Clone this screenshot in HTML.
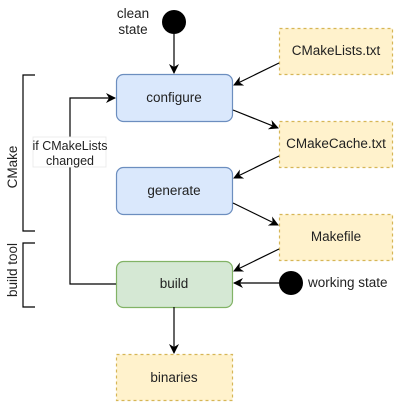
<!DOCTYPE html>
<html><head><style>body{margin:0;background:#fff}</style></head><body>
<svg width="400" height="403" xmlns="http://www.w3.org/2000/svg" font-family="Liberation Sans, sans-serif" font-size="13.5" fill="#000">
<defs><marker id="a" markerWidth="10" markerHeight="10" refX="9" refY="5" orient="auto" markerUnits="userSpaceOnUse"><path d="M0,0 L10,5 L0,10 L3,5 z" fill="#000"/></marker></defs>
<g stroke-width="1.2">
<rect x="116.5" y="74.5" width="116" height="47" rx="7" fill="#dae8fc" stroke="#6c8ebf"/>
<rect x="116.5" y="167.5" width="116" height="47" rx="7" fill="#dae8fc" stroke="#6c8ebf"/>
<rect x="116.5" y="261.5" width="116" height="46" rx="7" fill="#d5e8d4" stroke="#82b366"/>
<g fill="#fff2cc" stroke="#d6b656" stroke-dasharray="3 3">
<rect x="279.5" y="28.5" width="113" height="46"/>
<rect x="279.5" y="121.5" width="113" height="46"/>
<rect x="279.5" y="214.5" width="113" height="46"/>
<rect x="116.5" y="354.5" width="116" height="46"/>
</g>
</g>
<circle cx="174" cy="22" r="12"/>
<circle cx="291" cy="283" r="12"/>
<g stroke="#000" stroke-width="1.2" fill="none">
<line x1="174" y1="34" x2="174" y2="73" marker-end="url(#a)"/>
<line x1="279" y1="63" x2="234" y2="85" marker-end="url(#a)"/>
<line x1="233" y1="110" x2="278" y2="128" marker-end="url(#a)"/>
<line x1="279" y1="156" x2="234" y2="178" marker-end="url(#a)"/>
<line x1="233" y1="203" x2="278" y2="225" marker-end="url(#a)"/>
<line x1="279" y1="249" x2="234" y2="271" marker-end="url(#a)"/>
<line x1="279" y1="283" x2="234" y2="283" marker-end="url(#a)"/>
<line x1="174" y1="307" x2="174" y2="353" marker-end="url(#a)"/>
<polyline points="116,284 70,284 70,98 115,98" marker-end="url(#a)"/>
<polyline points="35,75 23,75 23,231 35,231"/>
<polyline points="35,243 23,243 23,307 35,307"/>
</g>
<rect x="33" y="137" width="73" height="30" fill="#fff" stroke="#e8e8e8" stroke-width="0.8"/>
<g text-anchor="middle" fill="#222">
<text x="133" y="18">clean</text><text x="133" y="34">state</text>
<text x="174" y="102">configure</text>
<text x="174" y="195">generate</text>
<text x="174" y="288">build</text>
<text x="174" y="382">binaries</text>
<text x="336" y="55">CMakeLists.txt</text>
<text x="336" y="148">CMakeCache.txt</text>
<text x="336" y="241">Makefile</text>
<text x="70" y="150" font-size="12.5">if CMakeLists</text><text x="70" y="165" font-size="12.5">changed</text>
<text x="0" y="0" transform="translate(17,167) rotate(-90)">CMake</text>
<text x="0" y="0" transform="translate(17,270) rotate(-90)">build tool</text>
</g>
<text x="308" y="287" fill="#222">working state</text>
</svg>
</body></html>
